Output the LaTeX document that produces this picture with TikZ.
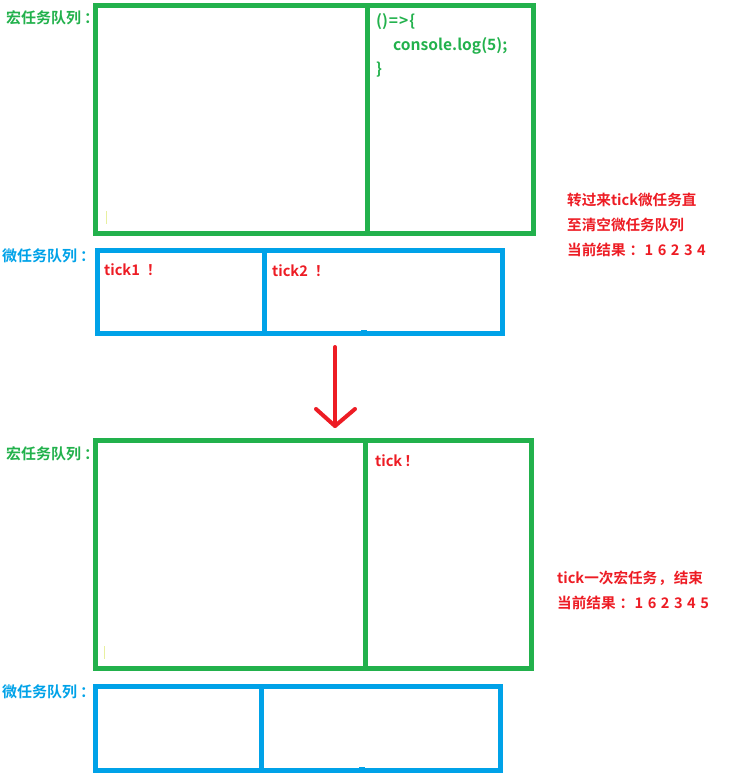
\documentclass[tikz,border=0pt]{standalone}
\usepackage{fontspec}
\setmainfont{Noto Sans CJK SC Bold}
\definecolor{pgreen}{HTML}{22B14C}
\definecolor{pblue}{HTML}{00A2E8}
\definecolor{pred}{HTML}{ED1C24}
\definecolor{pyel}{HTML}{E8F0A0}
\newcommand{\dg}{\kern4.5pt}
\begin{document}
\begin{tikzpicture}[x=1pt,y=-1pt,
  gbox/.style={draw=pgreen,line width=5pt},
  bbox/.style={draw=pblue,line width=5pt},
  lbl/.style={anchor=west,inner sep=0pt,font=\fontsize{14.6}{17}\selectfont},
  code/.style={anchor=west,inner sep=0pt,text=pgreen,font=\fontsize{15.6}{18}\selectfont},
  glbl/.style={lbl,text=pgreen,font=\fontsize{15}{17}\selectfont},
  blbl/.style={lbl,text=pblue,font=\fontsize{15}{17}\selectfont},
  rlbl/.style={lbl,text=pred},
  arr/.style={draw=pred,line width=4pt,line cap=round,line join=round}]
\useasboundingbox (0,0) rectangle (732,782);
% top macro queue
\draw[gbox] (95,5) rectangle (533,233);
\draw[gbox] (367,5) -- (367,233);
\draw[pyel,line width=0.8pt] (106.5,211) -- (106.5,224);
\node[glbl] (m1) at (6,18) {宏任务队列\kern3pt：};
\node[code] (c1) at (376,22) {()\kern1pt=\kern1pt>\kern1pt\{};
\node[code] (c2) at (393,46) {console.log(5);};
\node[code] (c3) at (376,70) {\}};
% top micro queue
\draw[bbox] (97,250) rectangle (502,333);
\draw[bbox] (264,250) -- (264,333);
\fill[pblue] (361,329.5) rectangle (367,331);
\node[blbl] (u1) at (2,256) {微任务队列\kern3pt：};
\node[rlbl] (t1) at (104,270) {tick1\kern7pt！};
\node[rlbl] (t2) at (272,271) {tick2\kern7pt！};
% right notes
\node[rlbl] (n1) at (567,200) {转过来tick微任务直};
\node[rlbl] (n2) at (567,225) {至清空微任务队列};
\node[rlbl] (n3) at (567,250) {当前结果\kern4pt：\kern0.5pt1\dg6\dg2\dg3\dg4};
% arrow
\coordinate (as) at (335,347);
\coordinate (at) at (335,426);
\coordinate (al) at (316,409);
\coordinate (ar) at (355,409);
\draw[arr] (as) -- (at);
\draw[arr] (al) -- (at) -- (ar);
% bottom macro queue
\draw[gbox] (95,440) rectangle (531,668);
\draw[gbox] (365,440) -- (365,668);
\draw[pyel,line width=0.8pt] (104.5,646) -- (104.5,659);
\node[glbl] (m2) at (6,454) {宏任务队列\kern3pt：};
\node[rlbl] (t3) at (375,461) {tick\kern2pt！};
% bottom micro queue
\draw[bbox] (95,686) rectangle (500,770);
\draw[bbox] (261,686) -- (261,770);
\fill[pblue] (359,766.5) rectangle (365,768);
\node[blbl] (u2) at (2,692) {微任务队列\kern3pt：};
% notes
\node[rlbl] (n4) at (557,578) {tick一次宏任务\kern1pt，\kern1pt结束};
\node[rlbl] (n5) at (557,603) {当前结果\kern4pt：\kern0.5pt1\dg6\dg2\dg3\dg4\dg5};
\end{tikzpicture}
\end{document}
